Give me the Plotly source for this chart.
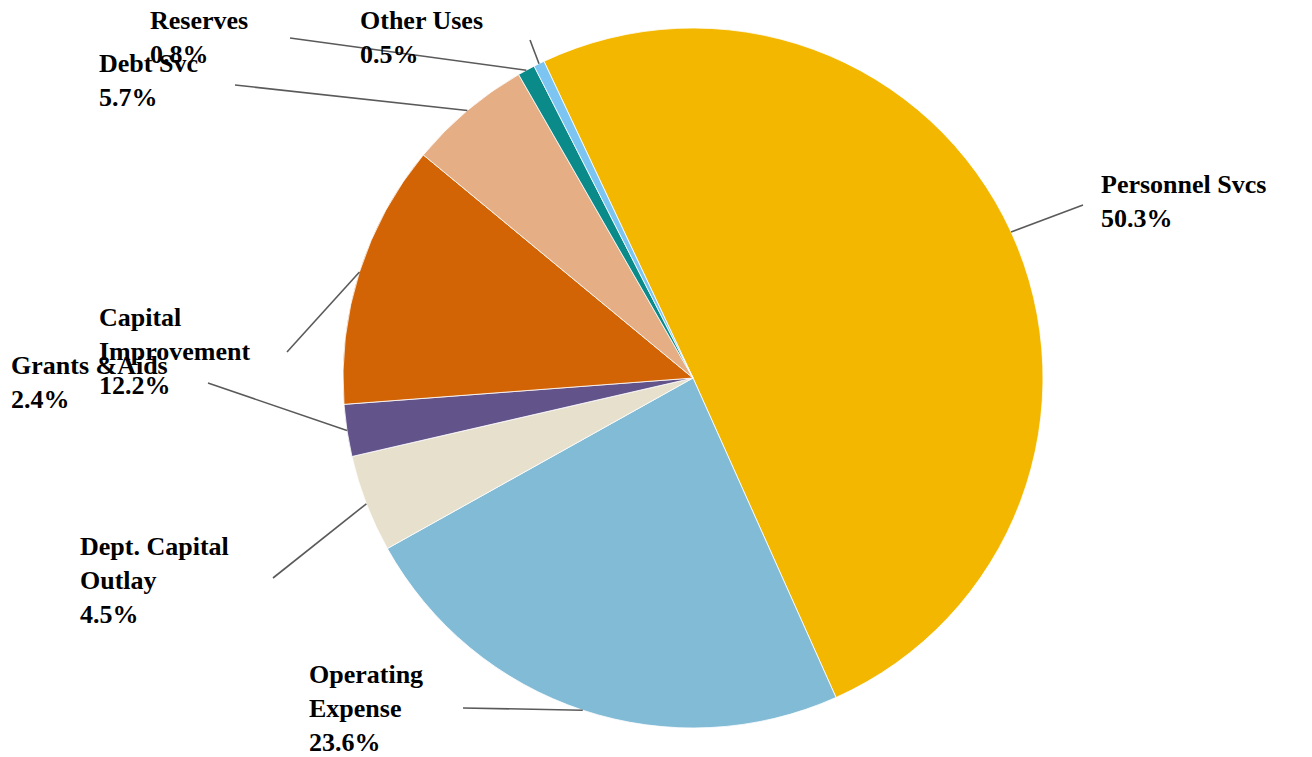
import math
import plotly.graph_objects as go

# ---- data ----
categories = ["Personnel Svcs", "Operating Expense", "Dept. Capital Outlay", "Grants & Aids",
              "Capital Improvement", "Debt Svc", "Reserves", "Other Uses"]
values = [50.3, 23.6, 4.5, 2.4, 12.2, 5.7, 0.8, 0.5]
label_lines = [["Personnel Svcs"], ["Operating", "Expense"], ["Dept. Capital", "Outlay"],
               ["Grants &Aids"], ["Capital", "Improvement"], ["Debt Svc"], ["Reserves"], ["Other Uses"]]

# ---- style / layout ----
colors = ["#F3B700", "#82BBD6", "#E6E0CC", "#62538B", "#D36406", "#E6AE85", "#0A8A88", "#7CC5F2"]
W, H = 1312, 757
CX, CY, R = 693, 378, 350
ROTATION = -25.2
FONT = dict(family="Liberation Serif", size=26, color="#000000")
# label top-left (px) and leader-line outer end (px), per category
label_pos = [(1099, 168), (307, 658), (78, 530), (9, 349), (97, 301), (97, 47), (148, 4), (358, 4)]
line_end = [(1083, 205), (463, 708), (273, 578), (208, 383), (287, 352), (235, 85), (290, 38), (530, 40)]

def px(x, y):
    return x / W, 1 - y / H

fig = go.Figure(go.Pie(
    labels=categories, values=values, sort=False, direction="clockwise",
    rotation=ROTATION, marker=dict(colors=colors, line=dict(color="white", width=0.8)),
    textinfo="none", hoverinfo="label+percent", showlegend=False,
    domain=dict(x=[(CX - R) / W, (CX + R) / W], y=[1 - (CY + R) / H, 1 - (CY - R) / H]),
))

total = sum(values)
cum = 0.0
shapes, annotations = [], []
for i, v in enumerate(values):
    mid = ROTATION + (cum + v / 2) / total * 360
    cum += v
    a = math.radians(mid)
    ex, ey = CX + R * math.sin(a), CY - R * math.cos(a)
    x0, y0 = px(ex, ey)
    x1, y1 = px(*line_end[i])
    shapes.append(dict(type="line", xref="paper", yref="paper", x0=x0, y0=y0, x1=x1, y1=y1,
                       line=dict(color="#5a5a5a", width=1.6)))
    lx, ly = px(*label_pos[i])
    text = "<br>".join(["<b>%s</b>" % t for t in label_lines[i]] + ["<b>%.1f%%</b>" % v])
    annotations.append(dict(xref="paper", yref="paper", x=lx, y=ly, xanchor="left", yanchor="top",
                            text=text, showarrow=False, align="left", font=FONT))

fig.update_layout(width=W, height=H, margin=dict(l=0, r=0, t=0, b=0),
                  paper_bgcolor="white", plot_bgcolor="white",
                  shapes=shapes, annotations=annotations)
fig.write_html("out.html")
